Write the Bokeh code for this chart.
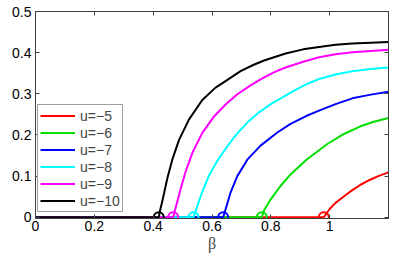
from bokeh.plotting import figure
from bokeh.models import Range1d, LinearAxis, FixedTicker, Label, Legend, LegendItem
from bokeh.embed import file_html
from bokeh.resources import INLINE

# ---- data ----
labels = ["u=\u22125", "u=\u22126", "u=\u22127", "u=\u22128", "u=\u22129", "u=\u221210"]
colors = ["#ff0000", "#00e000", "#0000ff", "#00ffff", "#ff00ff", "#000000"]
thresholds = [0.980, 0.769, 0.638, 0.537, 0.468, 0.419]

beta_u5 = [0.0, 0.980, 1.000, 1.020, 1.049, 1.077, 1.105, 1.134, 1.165, 1.200]
P_u5 = [0.0, 0.0, 0.020, 0.035, 0.051, 0.066, 0.079, 0.090, 0.100, 0.109]

beta_u6 = [0.0, 0.769, 0.777, 0.799, 0.833, 0.867, 0.920, 0.992, 1.050, 1.105, 1.150, 1.200]
P_u6 = [0.0, 0.0, 0.017, 0.043, 0.076, 0.104, 0.139, 0.178, 0.203, 0.221, 0.232, 0.241]

beta_u7 = [0.0, 0.638, 0.646, 0.663, 0.686, 0.720, 0.765, 0.822, 0.867, 0.920, 0.964, 1.020, 1.077, 1.140, 1.200]
P_u7 = [0.0, 0.0, 0.019, 0.060, 0.100, 0.140, 0.174, 0.206, 0.227, 0.246, 0.259, 0.275, 0.289, 0.298, 0.305]

beta_u8 = [0.0, 0.537, 0.543, 0.550, 0.567, 0.590, 0.618, 0.646, 0.680, 0.720, 0.760, 0.800, 0.867, 0.920, 0.964, 1.020, 1.077, 1.140, 1.200]
P_u8 = [0.0, 0.0, 0.012, 0.027, 0.062, 0.102, 0.137, 0.166, 0.199, 0.230, 0.255, 0.275, 0.303, 0.323, 0.336, 0.347, 0.355, 0.360, 0.364]

beta_u9 = [0.0, 0.468, 0.473, 0.482, 0.493, 0.510, 0.533, 0.567, 0.607, 0.646, 0.686, 0.730, 0.765, 0.810, 0.850, 0.910, 0.964, 1.020, 1.077, 1.140, 1.200]
P_u9 = [0.0, 0.0, 0.014, 0.038, 0.068, 0.110, 0.156, 0.205, 0.245, 0.274, 0.299, 0.320, 0.335, 0.352, 0.364, 0.378, 0.389, 0.396, 0.401, 0.404, 0.407]

beta_u10 = [0.0, 0.419, 0.423, 0.430, 0.436, 0.448, 0.465, 0.488, 0.522, 0.567, 0.612, 0.646, 0.697, 0.740, 0.777, 0.850, 0.910, 0.964, 1.020, 1.077, 1.140, 1.200]
P_u10 = [0.0, 0.0, 0.015, 0.036, 0.055, 0.094, 0.140, 0.188, 0.238, 0.285, 0.315, 0.331, 0.355, 0.370, 0.381, 0.398, 0.408, 0.414, 0.419, 0.422, 0.424, 0.426]

series_beta = [beta_u5, beta_u6, beta_u7, beta_u8, beta_u9, beta_u10]
series_P = [P_u5, P_u6, P_u7, P_u8, P_u9, P_u10]

x_ticks = [0, 0.2, 0.4, 0.6, 0.8, 1.0]
x_tick_labels = ["0", "0.2", "0.4", "0.6", "0.8", "1"]
y_ticks = [0, 0.1, 0.2, 0.3, 0.4, 0.5]
y_tick_labels = ["0", "0.1", "0.2", "0.3", "0.4", "0.5"]

# ---- figure ----
p = figure(width=390, height=256, output_backend="svg", toolbar_location=None,
           x_range=Range1d(0, 1.2), y_range=Range1d(-0.003, 0.5),
           min_border_left=35, min_border_right=2, min_border_top=11, min_border_bottom=38)
p.background_fill_color = "white"
p.border_fill_color = "white"
p.xgrid.visible = False
p.ygrid.visible = False
p.outline_line_color = "#404040"
p.outline_line_width = 1

font = "Liberation Sans"
for ax in (p.xaxis[0], p.yaxis[0]):
    ax.axis_line_color = "#404040"
    ax.major_tick_line_color = "#404040"
    ax.major_tick_in = 4
    ax.major_tick_out = 0
    ax.minor_tick_line_color = None
    ax.major_label_text_font = font
    ax.major_label_text_font_size = "14px"
    ax.major_label_text_color = "black"

p.xaxis[0].ticker = FixedTicker(ticks=x_ticks)
p.xaxis[0].major_label_overrides = dict(zip(x_ticks, x_tick_labels))
p.xaxis[0].major_label_standoff = 2
p.xaxis[0].axis_label = "\u03b2"
p.xaxis[0].axis_label_text_font = "Liberation Serif"
p.xaxis[0].axis_label_text_font_style = "normal"
p.xaxis[0].axis_label_text_font_size = "16px"
p.xaxis[0].axis_label_standoff = 1

p.yaxis[0].ticker = FixedTicker(ticks=y_ticks)
p.yaxis[0].major_label_overrides = dict(zip(y_ticks, y_tick_labels))
p.yaxis[0].major_label_standoff = 4

# mirrored tick marks on top and right
for loc in ("above", "right"):
    tk = x_ticks if loc == "above" else y_ticks
    ax = LinearAxis(ticker=FixedTicker(ticks=tk))
    ax.major_label_overrides = {t: "" for t in tk}
    ax.major_label_text_font_size = "1px"
    ax.major_label_standoff = 0
    ax.major_tick_in = 4
    ax.major_tick_out = 0
    ax.minor_tick_line_color = None
    ax.axis_line_color = "#404040"
    ax.major_tick_line_color = "#404040"
    p.add_layout(ax, loc)

items = []
for b, v, c, lab in zip(series_beta, series_P, colors, labels):
    r = p.line(b, v, line_color=c, line_width=2, line_join="round")
    items.append(LegendItem(label=lab, renderers=[r]))
for c, th in zip(colors, thresholds):
    p.scatter([th], [0.0], marker="circle", size=10, fill_color=None,
              line_color=c, line_width=2)

legend = Legend(items=items, location=(2, 6))
legend.label_text_font = font
legend.label_text_font_size = "14px"
legend.label_height = 17
legend.glyph_height = 17
legend.glyph_width = 35
legend.spacing = 0
legend.padding = 2
legend.margin = 0
legend.label_standoff = 5
legend.border_line_color = "#404040"
legend.border_line_width = 1
legend.background_fill_alpha = 1.0
p.add_layout(legend, "center")

p.add_layout(Label(x=-0.0935, y=0.268, text="P", text_font="Liberation Serif",
                   text_font_size="16px", text_align="center", text_baseline="middle"))

open("out.html", "w").write(file_html(p, INLINE))
